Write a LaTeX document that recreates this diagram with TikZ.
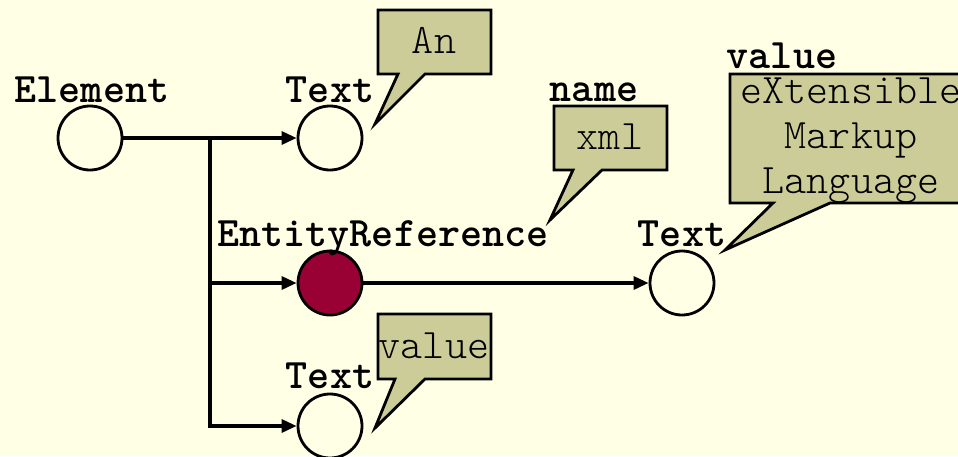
\documentclass[tikz,border=0pt]{standalone}
\usepackage{fontspec}
\newfontfamily\lightmono{Latin Modern Mono Light}
\usetikzlibrary{arrows.meta}
\definecolor{paper}{HTML}{FFFFE5}
\definecolor{note}{HTML}{CCCC99}
\definecolor{entity}{HTML}{990033}
\tikzset{
  nd/.style={circle, draw, line width=2.8pt, minimum size=64pt, inner sep=0pt},
  lbl/.style={font=\fontsize{42}{44}\selectfont\ttfamily\bfseries, inner sep=0pt, anchor=base},
  notetext/.style={font=\fontsize{42}{45}\selectfont\lightmono, inner sep=0pt, align=center, anchor=base},
  callout/.style={draw, line width=2.8pt, fill=note, line join=miter},
  link/.style={line width=3.2pt, -{Triangle[length=15pt,width=13pt]}},
  trunk/.style={line width=3.2pt},
}
\begin{document}
\begin{tikzpicture}[x=1pt, y=-1pt]
  % page and background
  \useasboundingbox (0,0) rectangle (958,456);
  \fill[paper] (0,0) rectangle (958,456);
  \clip (0,0) rectangle (958,456);

  % tree nodes
  \node[nd] (el) at (90,138) {};
  \node[nd] (t1) at (330,138) {};
  \node[nd, fill=entity] (er) at (330,283) {};
  \node[nd] (t2) at (682,283) {};
  \node[nd] (t3) at (330,426) {};

  % node type labels
  \node[lbl] (lel) at (92,102) {Element};
  \node[lbl] (lt1) at (330,102) {Text};
  \node[lbl] (ler) at (383,246) {EntityReference};
  \node[lbl] (lt2) at (682,246) {Text};
  \node[lbl] (lt3) at (330,388) {Text};
  \node[lbl] (lname) at (594,101) {name};
  \node[lbl] (lval) at (782,68) {value};

  % connectors
  \coordinate (split) at (210,138);
  \coordinate (jer) at (210,283);
  \draw[link] (el) -- (t1);
  \draw[trunk] (split) -- (jer);
  \draw[link] (jer) -- (er);
  \draw[link] (jer) |- (t3);
  \draw[link] (er) -- (t2);

  % callouts
  \draw[callout] (378,10) -- (491,10) -- (491,74) -- (425,74) -- (375,124) -- (398,74) -- (378,74) -- cycle;
  \node[notetext] (nan) at (434,53) {An};

  \draw[callout] (554,106) -- (667,106) -- (667,170) -- (602,170) -- (550,220) -- (573,170) -- (554,170) -- cycle;
  \node[notetext] (nxml) at (610,149) {xml};

  \draw[callout] (730,74) -- (975,74) -- (975,203) -- (830,203) -- (725,250) -- (773,203) -- (730,203) -- cycle;
  \node[notetext] (nxml2) at (851,193) {eXtensible\\Markup\\Language};

  \draw[callout] (378,314) -- (491,314) -- (491,379) -- (425,379) -- (375,428) -- (395,379) -- (378,379) -- cycle;
  \node[notetext] (nval) at (434,358) {value};
\end{tikzpicture}
\end{document}
